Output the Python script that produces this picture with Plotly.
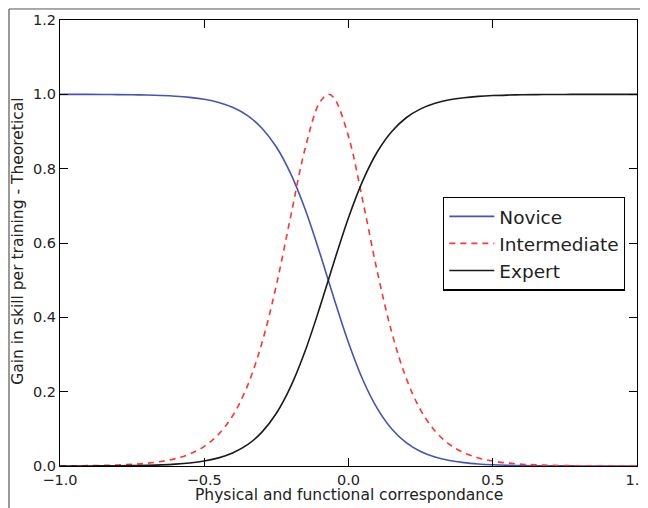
import plotly.graph_objects as go

x_vals = [-1.00, -0.95, -0.90, -0.85, -0.80, -0.75, -0.70, -0.65, -0.60, -0.55,
          -0.50, -0.45, -0.40, -0.35, -0.30, -0.25, -0.20, -0.15, -0.10, -0.07,
          -0.05, 0.00, 0.05, 0.10, 0.15, 0.20, 0.25, 0.30, 0.35, 0.40,
          0.45, 0.50, 0.55, 0.60, 0.65, 0.70, 0.75, 0.80, 0.85, 0.90, 0.95, 1.00]

novice = [0.9999, 0.9999, 0.9998, 0.9996, 0.9993, 0.9989, 0.9982, 0.9970, 0.9950, 0.9918,
          0.9866, 0.9781, 0.9644, 0.9427, 0.9089, 0.8582, 0.7858, 0.6900, 0.5744, 0.5000,
          0.4502, 0.3318, 0.2315, 0.1545, 0.0998, 0.0630, 0.0392, 0.0241, 0.0148, 0.0090,
          0.0055, 0.0033, 0.0020, 0.0012, 0.0007, 0.0005, 0.0003, 0.0002, 0.0001, 0.0001, 0.0000, 0.0000]

intermediate = [0.0004, 0.0006, 0.0010, 0.0016, 0.0027, 0.0044, 0.0073, 0.0121, 0.0198, 0.0324,
                0.0528, 0.0857, 0.1372, 0.2162, 0.3313, 0.4868, 0.6732, 0.8556, 0.9779, 1.0000,
                0.9901, 0.8868, 0.7115, 0.5224, 0.3592, 0.2360, 0.1505, 0.0942, 0.0582, 0.0357,
                0.0218, 0.0133, 0.0081, 0.0049, 0.0030, 0.0018, 0.0011, 0.0007, 0.0004, 0.0002, 0.0002, 0.0001]

expert = [0.0001, 0.0001, 0.0002, 0.0004, 0.0007, 0.0011, 0.0018, 0.0030, 0.0050, 0.0082,
          0.0134, 0.0219, 0.0356, 0.0573, 0.0911, 0.1418, 0.2142, 0.3100, 0.4256, 0.5000,
          0.5498, 0.6682, 0.7685, 0.8455, 0.9002, 0.9370, 0.9608, 0.9759, 0.9852, 0.9910,
          0.9945, 0.9967, 0.9980, 0.9988, 0.9993, 0.9995, 0.9997, 0.9998, 0.9999, 0.9999, 1.0000, 1.0000]

x_ticks = [-1.0, -0.5, 0.0, 0.5, 1.0]
x_tick_labels = ["\u22121.0", "\u22120.5", "0.0", "0.5", "1.0"]
y_ticks = [0.0, 0.2, 0.4, 0.6, 0.8, 1.0, 1.2]
y_tick_labels = ["0.0", "0.2", "0.4", "0.6", "0.8", "1.0", "1.2"]

font_family = "DejaVu Sans"

fig = go.Figure()
fig.add_trace(go.Scatter(x=x_vals, y=novice, name="Novice", mode="lines", legendgroup="n",
                         line=dict(color="#4453ba", width=1.6, shape="spline")))
fig.add_trace(go.Scatter(x=x_vals, y=intermediate, name="Intermediate", mode="lines", legendgroup="i",
                         line=dict(color="#ff3333", width=1.6, dash="6px,5px", shape="spline")))
fig.add_trace(go.Scatter(x=x_vals, y=expert, name="Expert", mode="lines", legendgroup="e",
                         line=dict(color="#1a1a1a", width=1.6, shape="spline")))

axis_common = dict(showgrid=False, zeroline=False, showline=True, linecolor="black", linewidth=1.2,
                   ticks="inside", ticklen=8, tickwidth=1, tickcolor="black", mirror="allticks",
                   automargin=False, ticklabeloverflow="allow",
                   tickfont=dict(family=font_family, size=14.5, color="#222"))

fig.update_xaxes(range=[-1, 1], tickvals=x_ticks, ticktext=x_tick_labels, **axis_common)
fig.update_yaxes(range=[0, 1.2], tickvals=y_ticks, ticktext=y_tick_labels, **axis_common)

# page body has an 8px margin, so the figure is 640x500 and offset by 8px
fig.update_layout(
    width=640, height=500,
    margin=dict(l=52, r=11, t=12, b=42, autoexpand=False),
    paper_bgcolor="white", plot_bgcolor="white",
    font=dict(family=font_family, color="#222"),
    showlegend=True,
    legend=dict(x=0.664, y=0.604, xanchor="left", yanchor="top",
                bordercolor="black", borderwidth=1.2, bgcolor="white",
                font=dict(family=font_family, size=18.5, color="#222"),
                tracegroupgap=0, itemwidth=45),
    annotations=[
        dict(text="Physical and functional correspondance", xref="paper", yref="paper",
             x=0.5, y=-0.065, xanchor="center", yanchor="middle", showarrow=False,
             font=dict(family=font_family, size=15.5, color="#222")),
        dict(text="Gain in skill per training - Theoretical", xref="paper", yref="paper",
             x=-0.0728, y=0.505, xanchor="center", yanchor="middle", textangle=-90, showarrow=False,
             font=dict(family=font_family, size=15.5, color="#222")),
    ],
    shapes=[
        dict(type="line", xref="paper", yref="paper", x0=-0.0884, x1=-0.0884, y0=-0.1, y1=1.0247,
             line=dict(color="#999", width=2)),
        dict(type="line", xref="paper", yref="paper", x0=-0.0884, x1=1.03, y0=1.0247, y1=1.0247,
             line=dict(color="#555", width=1)),
    ],
)

fig.write_html("out.html")
